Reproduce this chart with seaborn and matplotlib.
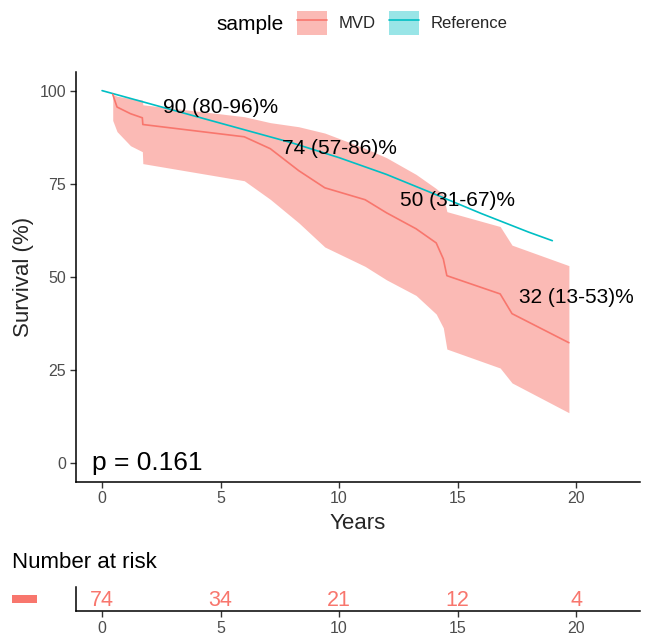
import numpy as np
import pandas as pd
import matplotlib
matplotlib.use("Agg")
import matplotlib.pyplot as plt
import seaborn as sns
from matplotlib.patches import Patch, Rectangle
from matplotlib.lines import Line2D
from matplotlib.legend_handler import HandlerTuple

# ---------------- data ----------------
mvd_time = [0.45, 0.63, 1.2, 1.7, 1.72, 6.0, 7.1, 8.3, 9.4, 11.1, 12.0, 13.25, 14.1, 14.4, 14.55, 16.8, 17.3, 19.7]
mvd_surv = [99.0, 95.6, 93.8, 92.7, 90.9, 87.6, 84.4, 78.5, 73.9, 70.7, 67.2, 62.9, 59.1, 54.8, 50.3, 45.4, 40.1, 32.3]
mvd_lower = [92.0, 89.0, 85.2, 83.6, 80.4, 75.8, 70.8, 64.5, 58.0, 52.8, 49.2, 45.0, 40.0, 36.3, 30.6, 25.5, 21.5, 13.5]
mvd_upper = [99.0, 98.5, 97.9, 97.5, 96.2, 93.0, 91.4, 90.3, 88.6, 84.5, 82.0, 77.5, 73.7, 72.0, 67.5, 63.5, 58.5, 53.0]

ref_time = [0, 2, 4, 6, 8, 10, 12, 14, 16, 18, 19.0]
ref_surv = [100, 96.5, 93.0, 89.5, 86.0, 82.0, 77.5, 72.3, 67.0, 62.0, 59.7]

label_time = [5, 10, 15, 20]
label_est = [90, 74, 50, 32]
label_lo = [80, 57, 31, 13]
label_hi = [96, 86, 67, 53]

risk_time = [0, 5, 10, 15, 20]
risk_n = [74, 34, 21, 12, 4]

p_text = "p = 0.161"
samples = ["MVD", "Reference"]

# ---------------- layout ----------------
label_y = [95.4, 84.4, 70.4, 44.4]

RED = "#F8766D"
TEAL = "#00BFC4"
TICKC = "#4D4D4D"

sns.set_theme(style="white")
plt.rcParams["font.family"] = ["Liberation Sans", "DejaVu Sans"]

W, H = 648, 636
fig = plt.figure(figsize=(W / 100, H / 100), dpi=100)

L, R = 76 / W, 640 / W
ax = fig.add_axes([L, 1 - 481.6 / H, R - L, (481.6 - 72) / H])
axr = fig.add_axes([L, 1 - 611 / H, R - L, (611 - 587) / H])

df_ref = pd.DataFrame({"time": ref_time, "surv": ref_surv, "sample": "Reference"})
df_mvd = pd.DataFrame({"time": mvd_time, "surv": mvd_surv, "sample": "MVD"})
pal = {"MVD": RED, "Reference": TEAL}

sns.lineplot(data=df_ref, x="time", y="surv", hue="sample", palette=pal,
             estimator=None, sort=False, legend=False, ax=ax, linewidth=1.2)
ax.fill_between(mvd_time, mvd_lower, mvd_upper, color=RED, alpha=0.5, linewidth=0)
sns.lineplot(data=df_mvd, x="time", y="surv", hue="sample", palette=pal,
             estimator=None, sort=False, legend=False, ax=ax, linewidth=1.2)

for t, e, lo, hi, yy in zip(label_time, label_est, label_lo, label_hi, label_y):
    ax.text(t, yy, f"{e} ({lo}-{hi})%", ha="center", va="center", fontsize=15, color="black")

ax.text(-0.42, 0, p_text, ha="left", va="center", fontsize=19, color="black")

xlim = (-1.1, 22.7)
ax.set_xlim(*xlim)
ax.set_ylim(-5, 105)
ax.set_xticks([0, 5, 10, 15, 20])
ax.set_yticks([0, 25, 50, 75, 100])
ax.set_xlabel("Years", fontsize=16, labelpad=5)
ax.set_ylabel("Survival (%)", fontsize=16, labelpad=4)
for a in (ax, axr):
    for s in ["top", "right"]:
        a.spines[s].set_visible(False)
    for s in ["left", "bottom"]:
        a.spines[s].set_color("black")
        a.spines[s].set_linewidth(1.1)
    a.tick_params(axis="both", which="both", length=4, width=1.0, color="#333333",
                  labelcolor=TICKC, labelsize=11.5, pad=3, left=True, bottom=True)
    a.grid(False)

# risk table
axr.set_xlim(*xlim)
axr.set_ylim(0, 1)
axr.set_yticks([])
axr.set_xticks(risk_time)
for t, n in zip(risk_time, risk_n):
    axr.text(t, 0.45, str(n), ha="center", va="center", fontsize=15.5, color=RED)
fig.text(12 / W, 1 - 562 / H, "Number at risk", ha="left", va="center", fontsize=16, color="black")
fig.add_artist(Rectangle((12 / W, 1 - 603 / H), 25 / W, 8 / H, transform=fig.transFigure,
                         facecolor=RED, edgecolor="none"))

# legend
fig.text(216 / W, 1 - 24 / H, "sample", ha="left", va="center", fontsize=15, color="black")
h_mvd = (Patch(facecolor=RED, alpha=0.5, edgecolor="none"), Line2D([], [], color=RED, lw=1.2))
h_ref = (Patch(facecolor=TEAL, alpha=0.4, edgecolor="none"), Line2D([], [], color=TEAL, lw=1.2))
fig.legend([h_mvd, h_ref], samples, handler_map={tuple: HandlerTuple(ndivide=1, pad=0)},
           loc="center left", bbox_to_anchor=(297 / W, 1 - 23 / H), ncol=2, frameon=False,
           fontsize=12, handlelength=1.8, handleheight=1.85, handletextpad=0.7,
           columnspacing=0.8, borderpad=0, borderaxespad=0)

fig.savefig("out.png", dpi=100)
